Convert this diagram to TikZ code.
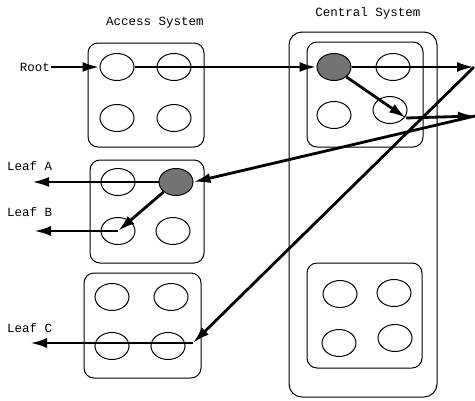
\documentclass[tikz,border=0pt]{standalone}
\usepackage{fontspec}
\setmonofont{Liberation Mono}
\usepackage{tikz}
\usetikzlibrary{arrows.meta, positioning, shapes.geometric}

\begin{document}
\begin{tikzpicture}[
    x=1pt, y=-1pt,
    port/.style={draw, ellipse, line width=1pt, inner sep=0pt,
                 minimum width=34pt, minimum height=27pt},
    busy/.style={port, fill=black!55},
    sysbox/.style={draw, line width=1pt, rounded corners=10pt},
    lbl/.style={font=\ttfamily\fontsize{12.5}{14}\selectfont, inner sep=1pt},
    arrow/.style={-{Latex[length=17pt, width=10pt]}, line width=2.8pt},
]
    \useasboundingbox (0,0) rectangle (475,400);

    % Access side
    \node[lbl] (acctitle) at (155,23) {Access System};
    \draw[sysbox] (88,43) rectangle (204,147);
    \node[port] (a11) at (117,67) {};
    \node[port] (a12) at (174,67) {};
    \node[port] (a21) at (117,118) {};
    \node[port] (a22) at (174,118) {};

    \draw[sysbox] (90,160) rectangle (204,263);
    \node[port] (b11) at (118,182) {};
    \node[busy] (b12) at (176,182) {};
    \node[port] (b21) at (118,231) {};
    \node[port] (b22) at (173,231) {};

    \draw[sysbox] (84,273) rectangle (201,378);
    \node[port] (d11) at (112,297) {};
    \node[port] (d12) at (171,297) {};
    \node[port] (d21) at (112,346) {};
    \node[port] (d22) at (168,346) {};

    % Central side
    \node[lbl] (centitle) at (368,13) {Central System};
    \draw[sysbox, rounded corners=13pt] (289,32) rectangle (437,397);
    \draw[sysbox] (307,42) rectangle (423,147);
    \node[busy] (c11) at (334,67) {};
    \node[port] (c12) at (393,67) {};
    \node[port] (c21) at (334,115) {};
    \node[port] (c22) at (390,110) {};

    \draw[sysbox] (307,263) rectangle (422,368);
    \node[port] (e11) at (340,294) {};
    \node[port] (e12) at (394,293) {};
    \node[port] (e21) at (339,343) {};
    \node[port] (e22) at (395,338) {};

    % Leaves
    \node[lbl] (root) at (35,67) {Root};
    \node[lbl, anchor=west] (leafA) at (6,166) {Leaf A};
    \node[lbl, anchor=west] (leafB) at (6,212) {Leaf B};
    \node[lbl, anchor=west] (leafC) at (6,328) {Leaf C};

    \coordinate (outA) at (474,67);
    \coordinate (outB) at (475,116);
    \coordinate (turnB) at (406,118);
    \coordinate (turnL) at (118,231);
    \coordinate (turnC) at (193,343);
    \coordinate (endA) at (32,182);
    \coordinate (endB) at (34,231);
    \coordinate (endC) at (30,343);

    % Arrows
    \draw[arrow] (root.east) -- (a11.west);
    \draw[arrow] (a11.east) -- (c11.west);
    \draw[arrow] (c11.east) -- (outA);
    \draw[arrow] (c11.south east) -- (turnB);
    \draw[arrow] (turnB) -- (outB);
    \draw[arrow] (outB) -- (b12.east);
    \draw[arrow] (outA) -- (turnC);
    \draw[arrow] (b12.west) -- (endA);
    \draw[arrow] (b12.south west) -- (turnL);
    \draw[arrow] (turnL) -- (endB);
    \draw[arrow] (turnC) -- (endC);
\end{tikzpicture}
\end{document}
